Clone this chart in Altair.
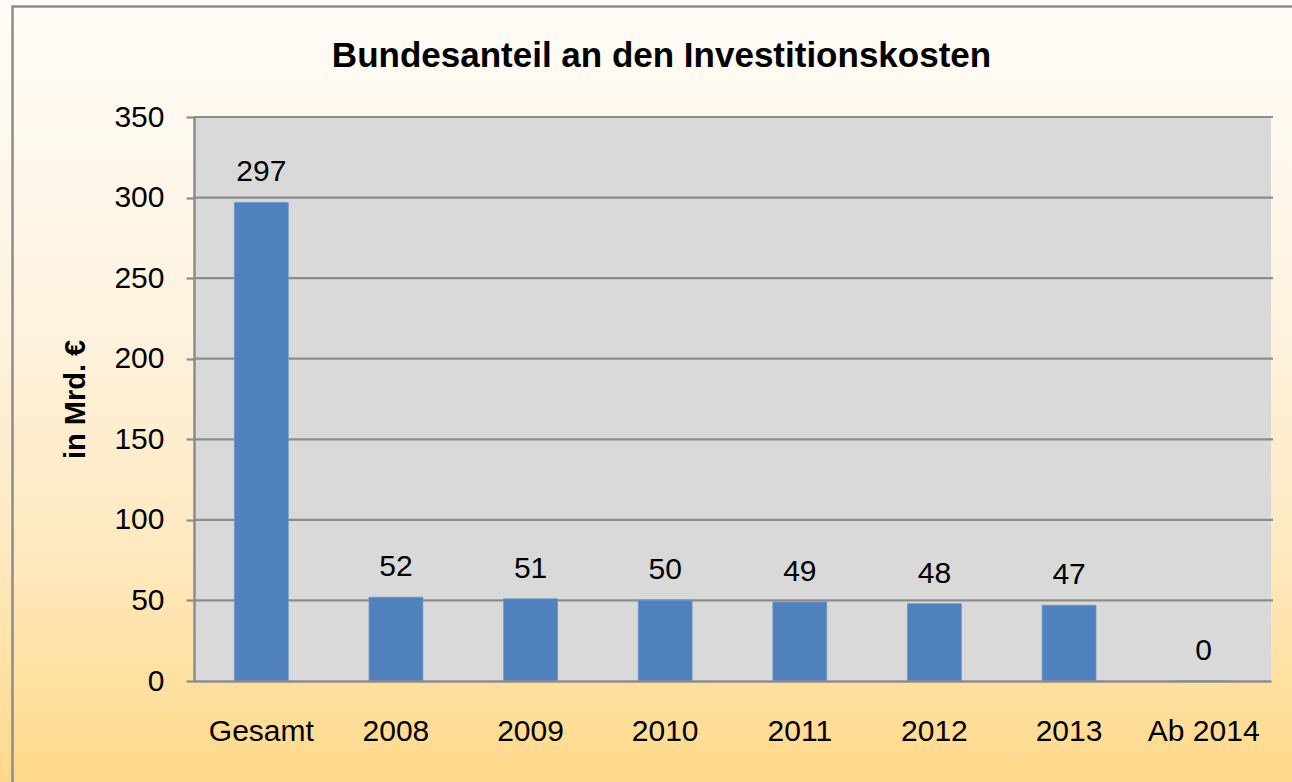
import altair as alt
import pandas as pd

categories = ["Gesamt", "2008", "2009", "2010", "2011", "2012", "2013", "Ab 2014"]
values = [297, 52, 51, 50, 49, 48, 47, 0]
y_ticks = [0, 50, 100, 150, 200, 250, 300, 350]
grid_vals = [50, 100, 150, 200, 250, 300, 350]

TITLE = "Bundesanteil an den Investitionskosten"
Y_TITLE = "in Mrd. €"

W, H = 1077, 564
PAD_L, PAD_T, PAD_R, PAD_B = 194, 117, 21, 101
FONT = "Liberation Sans"
FS = 30

df = pd.DataFrame({"cat": categories, "value": values})
one = pd.DataFrame({"a": [0]})
grid_df = pd.DataFrame({"g": grid_vals})

yscale = alt.Scale(domain=[0, 350], nice=False, zero=True)
xscale = alt.Scale(paddingInner=0.6, paddingOuter=0.3)

gradient = alt.LinearGradient(
    gradient="linear",
    stops=[
        alt.GradientStop(color="#fffcf7", offset=0),
        alt.GradientStop(color="#fef3e0", offset=0.4),
        alt.GradientStop(color="#fee9c0", offset=0.7),
        alt.GradientStop(color="#ffd98a", offset=1),
    ],
    x1=0, x2=0, y1=0, y2=1,
)

bg = alt.Chart(one).mark_rect(color=gradient).encode(
    x=alt.value(-PAD_L), x2=alt.value(W + PAD_R),
    y=alt.value(-PAD_T), y2=alt.value(H + PAD_B),
)

border = alt.Chart(one).mark_rect(fill="transparent", stroke="#8c8c8c", strokeWidth=2.5).encode(
    x=alt.value(12.5 - PAD_L), x2=alt.value(W + PAD_R + 20),
    y=alt.value(6.5 - PAD_T), y2=alt.value(H + PAD_B + 20),
)

plot_bg = alt.Chart(one).mark_rect(color="#d9d9d9").encode(
    x=alt.value(0), x2=alt.value(W), y=alt.value(0), y2=alt.value(H),
)

grid = alt.Chart(grid_df).mark_rule(color="#8c8c8c", strokeWidth=2.2).encode(
    y=alt.Y("g:Q", scale=yscale),
    x=alt.value(0), x2=alt.value(W + 2),
)

bars = alt.Chart(df).mark_bar(color="#4f81bd", stroke="#6f95c6", strokeWidth=0.8).encode(
    x=alt.X("cat:N", sort=categories, scale=xscale,
            axis=alt.Axis(title=None, labelAngle=0, labelFontSize=FS, labelColor="black",
                          labelFont=FONT, ticks=False, tickSize=0, labelPadding=59,
                          labelBaseline="alphabetic", domainColor="#8c8c8c", domainWidth=2.5,
                          grid=False, zindex=1)),
    y=alt.Y("value:Q", scale=yscale,
            axis=alt.Axis(title=Y_TITLE, values=y_ticks, grid=False, zindex=1,
                          labelFontSize=FS, labelColor="black", labelFont=FONT,
                          labelPadding=22, tickSize=8, tickWidth=2.2, tickColor="#8c8c8c",
                          domainColor="#8c8c8c", domainWidth=2.5,
                          titleFontSize=29, titleFontWeight="bold", titleFont=FONT,
                          titleColor="black", titleBaseline="alphabetic",
                          titleX=-110, titleY=H / 2, titleAlign="center")),
)

labels = alt.Chart(df).mark_text(baseline="alphabetic", dy=-21, fontSize=FS, font=FONT,
                                 color="black").encode(
    x=alt.X("cat:N", sort=categories, scale=xscale),
    y=alt.Y("value:Q", scale=yscale),
    text=alt.Text("value:Q"),
)

chart = alt.layer(bg, border, plot_bg, grid, bars, labels).properties(
    width=W, height=H,
    padding={"left": PAD_L, "top": PAD_T, "right": PAD_R, "bottom": PAD_B},
    autosize=alt.AutoSizeParams(type="none"),
    title=alt.TitleParams(TITLE, fontSize=35, fontWeight="bold", font=FONT, color="black",
                          anchor="middle", dx=-71, offset=-102, baseline="alphabetic"),
).configure_view(stroke=None)

chart.save("out.html", embed_options={"renderer": "svg", "actions": False})
